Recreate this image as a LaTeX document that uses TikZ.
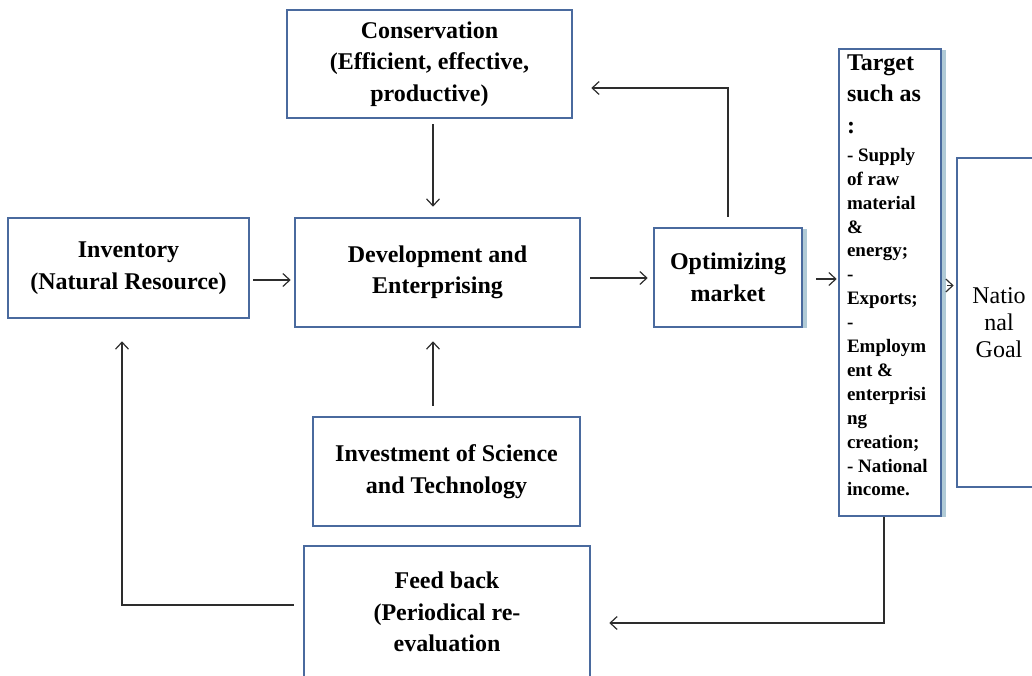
\documentclass[tikz,border=0pt]{standalone}
\usepackage{fontspec}
\setmainfont{Liberation Serif}
\usepackage{tikz}
\usetikzlibrary{
    arrows.meta,
    positioning,
    calc,
    shadows
}
\usepackage{xcolor}
\definecolor{boxblue}{RGB}{74,106,158}
\definecolor{shadowblue}{RGB}{176,202,214}
\definecolor{linegrey}{RGB}{45,45,45}

\begin{document}
\begin{tikzpicture}[
    x=0.5pt, y=-0.5pt,
    >={Straight Barb[length=3.5pt,width=6.5pt]},
    box/.style={
        rectangle, draw=boxblue, line width=1.3pt, fill=white,
        inner sep=0pt, align=center,
        font=\fontsize{12}{15.75}\selectfont\bfseries
    },
    shadowed/.style={
        drop shadow={shadow xshift=2.4pt, shadow yshift=-0.6pt,
                     fill=shadowblue, opacity=1}
    },
    flow/.style={->, draw=linegrey, line width=0.6pt}
]

\clip (0,0) rectangle (1032,675);

% Main row
\node[box, minimum width=120.5pt, minimum height=50pt] (inv) at (128.5, 268) {Inventory\\(Natural Resource)};
\node[box, minimum width=142.5pt, minimum height=54.5pt] (dev) at (437.5, 272.5) {Development and\\Enterprising};
\node[box, shadowed, minimum width=74pt, minimum height=49.5pt] (opt) at (728, 277.5) {Optimizing\\market};

% Above and below the development box
\node[box, minimum width=142.5pt, minimum height=54pt] (cons) at (429.5, 64) {Conservation\\(Efficient, effective,\\productive)};
\node[box, minimum width=133.5pt, minimum height=54.5pt] (invest) at (446.5, 471.5) {Investment of Science\\and Technology};
\node[box, minimum width=143pt, minimum height=66pt] (feed) at (447, 612) {Feed back\\(Periodical re-\\evaluation};

% Targets and goal
\node[box, shadowed, text width=43pt, align=flush left, minimum width=51pt, minimum height=233.5pt] (target) at (890, 282.5) {
    Target\\such as\\:\par\vspace{2pt}
    {\fontsize{9.5}{11.95}\selectfont - Supply\\of raw\\material\\\&\\energy;\\-\\Exports;\\-\\Employm\\ent \&\\enterprisi\\ng\\creation;\\- National\\income.\par}
    \vspace{7pt}\hrule height 0pt width 0pt
};
\node[box, font=\fontsize{12}{13.5}\selectfont, minimum width=42pt, minimum height=164.5pt] (natgoal) at (999, 322.5) {Natio\\nal\\Goal};

% Arrows
\coordinate (midx) at (433, 0);
\draw[flow, shorten <=1.5pt, shorten >=1.5pt] ([yshift=-6pt]inv.east) -- ([yshift=-6pt]inv.east -| dev.west);
\draw[flow, shorten <=2.5pt, shorten >=5pt] (cons.south -| midx) -- (dev.north -| midx);
\draw[flow, shorten <=5pt, shorten >=6.5pt] (invest.north -| midx) -- (dev.south -| midx);
\draw[flow, shorten <=4.5pt, shorten >=2.5pt] ([yshift=-2.75pt]dev.east) -- ([yshift=-2.75pt]dev.east -| opt.west);
\draw[flow, shorten <=5pt, shorten >=9pt] (opt.north) |- ([yshift=-12pt]cons.east);
\draw[flow, shorten <=6.5pt, shorten >=0.5pt] ([yshift=-0.75pt]opt.east) -- ([yshift=-0.75pt]opt.east -| target.west);
\draw[flow, shorten <=2.5pt, shorten >=1pt] ([yshift=-1.5pt]target.east) -- ([yshift=-1.5pt]target.east -| natgoal.west);
\draw[flow, shorten >=9pt] ([xshift=-3pt]target.south) |- ([yshift=-5.5pt]feed.east);
\draw[flow, shorten <=4.5pt, shorten >=11pt] ([yshift=3.5pt]feed.west) -| ([xshift=-3.25pt]inv.south);

\end{tikzpicture}
\end{document}
